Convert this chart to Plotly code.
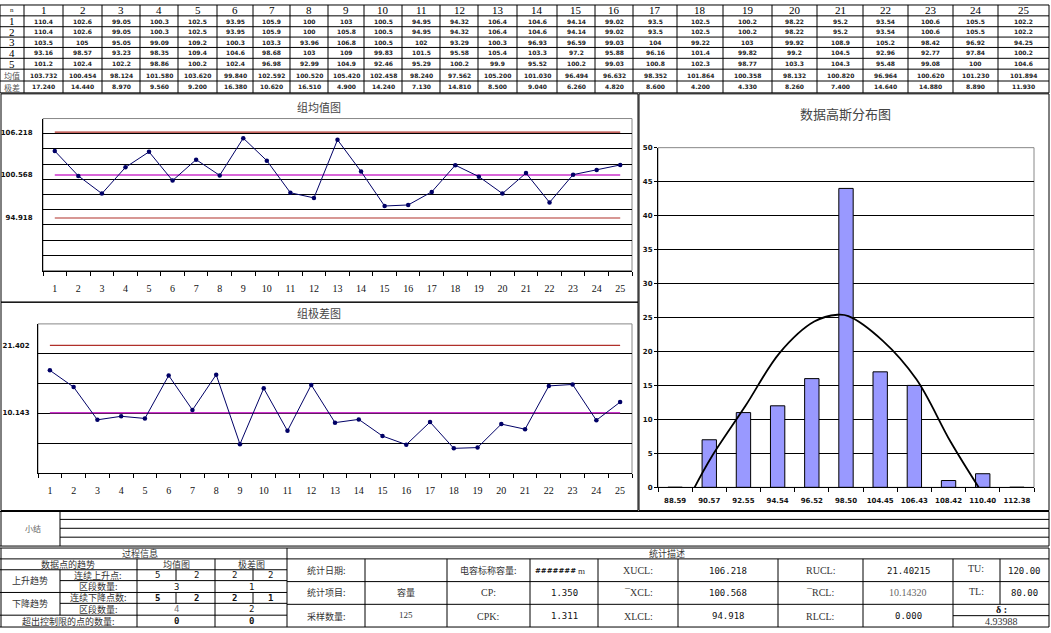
import plotly.graph_objects as go

W, H = 1051, 633

# ---------------- data ----------------
samples = list(range(1, 26))
row1 = ["110.4", "102.6", "99.05", "100.3", "102.5", "93.95", "105.9", "100", "103", "100.5", "94.95", "94.32", "106.4",
        "104.6", "94.14", "99.02", "93.5", "102.5", "100.2", "98.22", "95.2", "93.54", "100.6", "105.5", "102.2"]
row2 = ["110.4", "102.6", "99.05", "100.3", "102.5", "93.95", "105.9", "100", "105.8", "100.5", "94.95", "94.32", "106.4",
        "104.6", "94.14", "99.02", "93.5", "102.5", "100.2", "98.22", "95.2", "93.54", "100.6", "105.5", "102.2"]
row3 = ["103.5", "105", "95.05", "99.09", "109.2", "100.3", "103.3", "93.96", "106.8", "100.5", "102", "93.29", "100.3",
        "96.93", "96.59", "99.03", "104", "99.22", "103", "99.92", "108.9", "105.2", "98.42", "96.92", "94.25"]
row4 = ["93.16", "98.57", "93.23", "98.35", "109.4", "104.6", "98.68", "103", "109", "99.83", "101.5", "95.58", "105.4",
        "103.3", "97.2", "95.88", "96.16", "101.4", "99.82", "99.2", "104.5", "92.96", "92.77", "97.84", "100.2"]
row5 = ["101.2", "102.4", "102.2", "98.86", "100.2", "102.4", "96.98", "92.99", "104.9", "92.46", "95.29", "100.2", "99.9",
        "95.52", "100.2", "99.03", "100.8", "102.3", "98.77", "103.3", "104.3", "95.48", "99.08", "100", "104.6"]
x_means = [103.732, 100.454, 98.124, 101.580, 103.620, 99.840, 102.592, 100.520, 105.420, 102.458, 98.240, 97.562,
           105.200, 101.030, 96.494, 96.632, 98.352, 101.864, 100.358, 98.132, 100.820, 96.964, 100.620, 101.230, 101.894]
ranges = [17.240, 14.440, 8.970, 9.560, 9.200, 16.380, 10.620, 16.510, 4.900, 14.240, 7.130, 14.810, 8.500, 9.040,
          6.260, 4.820, 8.600, 4.200, 4.330, 8.260, 7.400, 14.640, 14.880, 8.890, 11.930]
XUCL, XCL, XLCL = 106.218, 100.568, 94.918
RUCL, RCL, RLCL = 21.40215, 10.14320, 0.0

hist_labels = ["88.59", "90.57", "92.55", "94.54", "96.52", "98.50", "104.45", "106.43", "108.42", "110.40", "112.38"]
hist_counts = [0, 7, 11, 12, 16, 44, 17, 15, 1, 2, 0]
# normal curve (x in bin-index units)
curve_x = [0.57, 1.07, 2.06, 3.06, 4.07, 4.75, 5.07, 6.07, 7.06, 8.06, 8.88]
curve_y = [0.0, 4.5, 12.0, 19.8, 24.4, 25.4, 25.2, 21.6, 15.9, 6.7, 0.0]

# ---------------- helpers ----------------
def px(x):
    return x / W


def py(y):
    return 1 - y / H


shapes = []
annotations = []


def line(x0, y0, x1, y1, color="black", width=1):
    shapes.append(dict(type="line", xref="paper", yref="paper", x0=px(x0), y0=py(y0), x1=px(x1), y1=py(y1),
                       line=dict(color=color, width=width)))


def rect(x0, y0, x1, y1, color="black", width=1):
    shapes.append(dict(type="rect", xref="paper", yref="paper", x0=px(x0), y0=py(y0), x1=px(x1), y1=py(y1),
                       line=dict(color=color, width=width), layer="below"))


CJK = "Noto Sans CJK SC"
SERIF = "Liberation Serif"


def text(x, y, s, size=9, family=SERIF, color="#111", bold=False, anchor="center"):
    if bold:
        s = "<b>" + s + "</b>"
    annotations.append(dict(x=px(x), y=py(y), xref="paper", yref="paper", text=s, showarrow=False,
                            xanchor=anchor, yanchor="middle", font=dict(size=size, family=family, color=color)))


# ---------------- top data table ----------------
tcols = [0, 24, 63, 102, 140, 178, 217, 253, 290, 328, 364, 402, 440, 478, 517, 557, 595, 633, 677, 723, 772, 817,
         863, 908, 953, 998, 1049]
trows = [1, 12, 23, 33.5, 44, 55, 66, 78, 90]
for yv in trows:
    line(0, yv, 1049, yv, width=1)
for xv in tcols:
    line(xv, 1, xv, 90, width=1)

text(12, 6.5, "n", size=7, family=SERIF)
for i, s in enumerate(samples):
    cx = (tcols[i + 1] + tcols[i + 2]) / 2
    text(cx, 6.5, str(s), size=11, family=SERIF, color="#000")
row_labels = ["1", "2", "3", "4", "5"]
for r, lab in enumerate(row_labels):
    cy = (trows[r + 1] + trows[r + 2]) / 2
    text(12, cy, lab, size=11, family=SERIF, color="#000")
text(12, (trows[6] + trows[7]) / 2 + 0.5, "均值", size=8, family=CJK, color="#555")
text(12, (trows[7] + trows[8]) / 2 + 0.5, "极差", size=8, family=CJK, color="#555")

all_rows = [row1, row2, row3, row4, row5,
            ["%.3f" % v for v in x_means], ["%.3f" % v for v in ranges]]
for r, vals in enumerate(all_rows):
    cy = (trows[r + 1] + trows[r + 2]) / 2
    for i, v in enumerate(vals):
        cx = (tcols[i + 1] + tcols[i + 2]) / 2
        text(cx, cy, v, size=6, family="DejaVu Sans", color="#222", bold=True)

# ---------------- chart frames ----------------
rect(1, 91, 638, 302)
rect(1, 302, 638, 513)
rect(639, 91, 1049, 513)
# plot-area gray boxes
rect(43, 116, 632, 270, color="#888")
rect(38, 324, 632, 475.5, color="#888")
rect(658, 145.5, 1034, 489.5, color="#888")

text(319, 104, "组均值图", size=11, family=CJK, color="#444")
text(319, 313, "组极差图", size=11, family=CJK, color="#444")
text(845, 111, "数据高斯分布图", size=13, family=CJK, color="#444")

# ---------------- bottom sections ----------------
# summary block
line(0, 514, 1049, 514)
for yv in [522, 531, 540]:
    line(60, yv, 1049, yv)
line(0, 549, 1049, 549)
line(1, 514, 1, 549)
line(60, 514, 60, 549)
line(1049, 514, 1049, 549)
text(33, 531, "小结", size=8, family=CJK, color="#666")

# process / statistics tables
line(0, 551, 1049, 551)
line(0, 562, 1049, 562)
line(0, 573, 287, 573)
line(60, 584, 287, 584)
line(0, 596, 287, 596)
line(60, 607, 287, 607)
line(0, 619, 287, 619)
line(0, 631, 1049, 631)
line(1, 551, 1, 631)
line(60, 573, 60, 619)
line(137, 562, 137, 631)
line(176, 573, 176, 584)
line(176, 596, 176, 607)
line(215, 562, 215, 631)
line(253, 573, 253, 584)
line(253, 596, 253, 607)
line(287, 551, 287, 631)
line(1049, 551, 1049, 631)
line(287, 585, 1049, 585)
line(287, 608, 1049, 608)
line(953, 619.5, 1049, 619.5)
for xv in [365, 447, 530, 598, 678, 778, 863, 953]:
    line(xv, 562, xv, 631)
line(1000, 562, 1000, 608)

text(140, 556.5, "过程信息", size=9, family=CJK, color="#333")
text(667, 556.5, "统计描述", size=9, family=CJK, color="#333")
text(68, 567.5, "数据点的趋势", size=9, family=CJK, color="#333")
text(176, 567.5, "均值图", size=9, family=CJK, color="#333")
text(251, 567.5, "极差图", size=9, family=CJK, color="#333")
text(30, 584, "上升趋势", size=9, family=CJK, color="#333")
text(98, 578.5, "连续上升点:", size=9, family=CJK, color="#333")
text(98, 590, "区段数量:", size=9, family=CJK, color="#333")
text(30, 607, "下降趋势", size=9, family=CJK, color="#333")
text(98, 601.5, "连续下降点数:", size=9, family=CJK, color="#333")
text(98, 613, "区段数量:", size=9, family=CJK, color="#333")
text(68, 625, "超出控制限的点的数量:", size=9, family=CJK, color="#333")
for cx, v in zip([157, 196, 234, 270], ["5", "2", "2", "2"]):
    text(cx, 578.5, v, size=9, family="DejaVu Sans Mono", color="#111")
for cx, v in zip([157, 196, 234, 270], ["5", "2", "2", "1"]):
    text(cx, 601.5, v, size=9, family="DejaVu Sans Mono", color="#111", bold=True)
text(176, 590, "3", size=9, family="DejaVu Sans Mono")
text(251, 590, "1", size=9, family="DejaVu Sans Mono")
text(176, 613, "4", size=9, family="DejaVu Sans Mono", color="#777")
text(251, 613, "2", size=9, family="DejaVu Sans Mono")
text(176, 625, "0", size=9, family="DejaVu Sans Mono", bold=True)
text(251, 625, "0", size=9, family="DejaVu Sans Mono", bold=True)

text(326, 574, "统计日期:", size=9, family=CJK, color="#333")
text(326, 596.5, "统计项目:", size=9, family=CJK, color="#333")
text(326, 620, "采样数量:", size=9, family=CJK, color="#333")
text(406, 596.5, "容量", size=9, family=CJK, color="#333")
text(406, 619, "125", size=9, family=SERIF, color="#333")
text(488, 574, "电容标称容量:", size=9, family=CJK, color="#333")
text(488, 596.5, "CP:", size=10, family=SERIF, color="#333")
text(488, 620, "CPK:", size=10, family=SERIF, color="#333")
text(555, 574, "#######", size=7, family="DejaVu Sans", color="#111", bold=True)
text(581, 574, "m", size=9, family=SERIF, color="#333")
text(564, 596.5, "1.350", size=9, family="DejaVu Sans Mono", color="#111")
text(564, 620, "1.311", size=9, family="DejaVu Sans Mono", color="#111")
text(638, 574, "XUCL:", size=10, family=SERIF, color="#333")
text(638, 596.5, "¯XCL:", size=10, family=SERIF, color="#333")
text(638, 620, "XLCL:", size=10, family=SERIF, color="#333")
text(728, 574, "%.3f" % XUCL, size=9, family="DejaVu Sans Mono", color="#111")
text(728, 596.5, "%.3f" % XCL, size=9, family="DejaVu Sans Mono", color="#111")
text(728, 620, "%.3f" % XLCL, size=9, family="DejaVu Sans Mono", color="#111")
text(820, 574, "RUCL:", size=10, family=SERIF, color="#333")
text(820, 596.5, "¯RCL:", size=10, family=SERIF, color="#333")
text(820, 620, "RLCL:", size=10, family=SERIF, color="#333")
text(908, 574, "%.5f" % RUCL, size=9, family="DejaVu Sans Mono", color="#111")
text(908, 596.5, "%.5f" % RCL, size=10, family=SERIF, color="#666")
text(908, 620, "%.3f" % RLCL, size=9, family="DejaVu Sans Mono", color="#111")
text(976, 572, "TU:", size=10, family=SERIF, color="#333")
text(976, 595, "TL:", size=10, family=SERIF, color="#333")
text(1024, 574, "120.00", size=9, family="DejaVu Sans Mono", color="#111")
text(1024, 596.5, "80.00", size=9, family="DejaVu Sans Mono", color="#111")
text(1001, 613.5, "δ :", size=10, family=SERIF, color="#111", bold=True)
text(1001, 625.5, "4.93988", size=10, family=SERIF, color="#333")

# ---------------- traces ----------------
fig = go.Figure()
NAVY = "#000066"
UCL_C = "#B0302A"
CL_C = "#CC33CC"

# X-bar chart
fig.add_trace(go.Scatter(x=[samples[0], samples[-1]], y=[XUCL, XUCL], mode="lines",
                         line=dict(color=UCL_C, width=1.2), xaxis="x", yaxis="y", hoverinfo="skip"))
fig.add_trace(go.Scatter(x=[samples[0], samples[-1]], y=[XLCL, XLCL], mode="lines",
                         line=dict(color=UCL_C, width=1.2), xaxis="x", yaxis="y", hoverinfo="skip"))
fig.add_trace(go.Scatter(x=[samples[0], samples[-1]], y=[XCL, XCL], mode="lines",
                         line=dict(color=CL_C, width=1.6), xaxis="x", yaxis="y", hoverinfo="skip"))
fig.add_trace(go.Scatter(x=samples, y=x_means, mode="lines+markers",
                         line=dict(color=NAVY, width=1), marker=dict(color=NAVY, size=4.5, symbol="circle"),
                         xaxis="x", yaxis="y"))

# R chart
fig.add_trace(go.Scatter(x=[samples[0], samples[-1]], y=[RUCL, RUCL], mode="lines",
                         line=dict(color=UCL_C, width=1.2), xaxis="x2", yaxis="y2", hoverinfo="skip"))
fig.add_trace(go.Scatter(x=[samples[0], samples[-1]], y=[RLCL, RLCL], mode="lines",
                         line=dict(color=UCL_C, width=1.2), xaxis="x2", yaxis="y2", hoverinfo="skip"))
fig.add_trace(go.Scatter(x=[samples[0], samples[-1]], y=[RCL, RCL], mode="lines",
                         line=dict(color=CL_C, width=1.6), xaxis="x2", yaxis="y2", hoverinfo="skip"))
fig.add_trace(go.Scatter(x=samples, y=ranges, mode="lines+markers",
                         line=dict(color=NAVY, width=1), marker=dict(color=NAVY, size=4.5, symbol="circle"),
                         xaxis="x2", yaxis="y2"))

# histogram
fig.add_trace(go.Bar(x=list(range(len(hist_labels))), y=hist_counts, width=0.42,
                     marker=dict(color="#9999FF", line=dict(color="black", width=1)),
                     xaxis="x3", yaxis="y3"))
fig.add_trace(go.Scatter(x=curve_x, y=curve_y, mode="lines", line=dict(color="black", width=1.8, shape="spline"),
                         xaxis="x3", yaxis="y3", hoverinfo="skip"))

tick_font_small = dict(size=7, family="DejaVu Sans", color="#111")
cat_font = dict(size=10, family=SERIF, color="#111")

common_cat_x = dict(range=[0.5, 25.5], tickvals=samples, ticktext=[str(s) for s in samples], ticks="",
                    showgrid=False, zeroline=False, showline=True, linecolor="black", linewidth=1,
                    tickfont=cat_font, ticklabelstandoff=8,
                    minor=dict(tick0=0.5, dtick=1, ticks="outside", ticklen=4, tickcolor="black", showgrid=False))

fig.update_layout(
    width=W, height=H, margin=dict(l=0, r=0, t=0, b=0),
    paper_bgcolor="white", plot_bgcolor="white", showlegend=False,
    xaxis=dict(domain=[px(43), px(632)], anchor="y", **common_cat_x),
    yaxis=dict(domain=[py(270), py(116)], anchor="x", range=[88, 108],
               tickvals=[XLCL, XCL, XUCL], ticktext=["<b>%.3f</b>" % v for v in [XLCL, XCL, XUCL]],
               ticks="", tickfont=tick_font_small, showgrid=False, zeroline=False,
               showline=True, linecolor="black", linewidth=1, ticklabelstandoff=8,
               minor=dict(tick0=88, dtick=2, showgrid=True, gridcolor="black", gridwidth=1)),
    xaxis2=dict(domain=[px(38), px(632)], anchor="y2", **common_cat_x),
    yaxis2=dict(domain=[py(475.5), py(324)], anchor="x2", range=[0, 25],
                tickvals=[RCL, RUCL], ticktext=["<b>%.3f</b>" % v for v in [RCL, RUCL]],
                ticks="", tickfont=tick_font_small, showgrid=False, zeroline=False,
                showline=True, linecolor="black", linewidth=1, ticklabelstandoff=6,
                minor=dict(tick0=0, dtick=5, showgrid=True, gridcolor="black", gridwidth=1)),
    xaxis3=dict(domain=[px(658), px(1034)], anchor="y3", range=[-0.5, 10.5],
                tickvals=list(range(len(hist_labels))), ticktext=["<b>%s</b>" % s for s in hist_labels],
                ticks="", tickfont=dict(size=7, family="DejaVu Sans", color="#111"), ticklabelstandoff=6,
                showgrid=False, zeroline=False, showline=True, linecolor="black", linewidth=1,
                minor=dict(tick0=-0.5, dtick=1, ticks="outside", ticklen=4, tickcolor="black", showgrid=False)),
    yaxis3=dict(domain=[py(489.5), py(145.5)], anchor="x3", range=[0, 50], dtick=5,
                tickfont=tick_font_small, tickprefix="<b>", ticksuffix="</b>",
                ticks="outside", ticklen=3, tickcolor="black",
                showgrid=True, gridcolor="black", gridwidth=1, zeroline=False,
                showline=True, linecolor="black", linewidth=1),
    shapes=shapes, annotations=annotations,
    bargap=0.5,
)

fig.write_html("out.html", config={"displayModeBar": False},
               post_script="document.body.style.margin='0px';")
